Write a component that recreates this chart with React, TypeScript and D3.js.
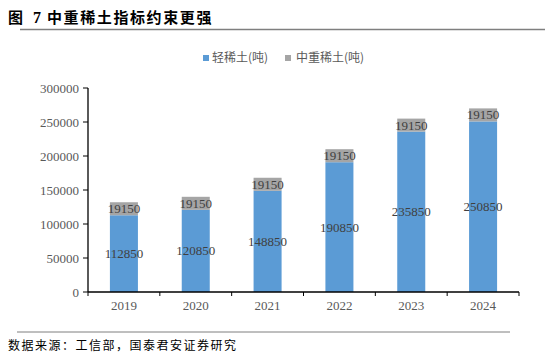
import React from "react";
import * as d3 from "d3";

const categories = ["2019", "2020", "2021", "2022", "2023", "2024"];
const lightREE = [112850, 120850, 148850, 190850, 235850, 250850];
const heavyREE = [19150, 19150, 19150, 19150, 19150, 19150];
const yTicks = [0, 50000, 100000, 150000, 200000, 250000, 300000];
const seriesNames = ["轻稀土(吨)", "中重稀土(吨)"];
const colors = ["#5B9BD5", "#A5A5A5"];

const serif = "'Liberation Serif', 'Times New Roman', serif";
const cjk = "'Noto Sans CJK SC', sans-serif";

export default function App() {
  const W = 560, H = 359;
  const left = 88, right = 519, top = 88, bottom = 292;
  const x = d3.scaleBand<string>().domain(categories).range([left, right]).paddingInner(0.61).paddingOuter(0.305);
  const y = d3.scaleLinear().domain([0, 300000]).range([bottom, top]);
  const bw = x.bandwidth();
  const stackData = categories.map((c, i) => ({ cat: c, light: lightREE[i], heavy: heavyREE[i] }));
  const series = d3.stack<any>().keys(["light", "heavy"])(stackData);
  const step = (right - left) / categories.length;

  return (
    <div style={{ position: "fixed", left: 0, top: 0 }}>
      <svg width={W} height={H} style={{ display: "block", background: "#fff" }}>
        <text x={8} y={23} fontFamily={cjk} fontWeight={700} fontSize={15} fill="#000">图</text>
        <text x={33} y={23} fontFamily={serif} fontWeight={700} fontSize={16} fill="#000">7</text>
        <text x={47} y={23} fontFamily={cjk} fontWeight={700} fontSize={15} letterSpacing={1.6} fill="#000">中重稀土指标约束更强</text>
        <line x1={20} x2={545} y1={29.5} y2={29.5} stroke="#7f7f7f" strokeWidth={1.5} />

        {/* legend */}
        <rect x={203} y={55} width={6} height={6} fill={colors[0]} />
        <text x={212} y={62} fontFamily={cjk} fontSize={12} fill="#595959">{seriesNames[0]}</text>
        <rect x={285} y={55} width={6} height={6} fill={colors[1]} />
        <text x={296} y={62} fontFamily={cjk} fontSize={12} fill="#595959">{seriesNames[1]}</text>

        {/* bars */}
        {series.map((s, si) =>
          s.map((d, i) => (
            <rect key={`${si}-${i}`} x={x(categories[i])!} y={y(d[1])} width={bw} height={y(d[0]) - y(d[1])} fill={colors[si]} />
          ))
        )}
        {/* labels */}
        {series.map((s, si) =>
          s.map((d, i) => (
            <text key={`l${si}-${i}`} x={x(categories[i])! + bw / 2} y={(y(d[0]) + y(d[1])) / 2 + 4.5} textAnchor="middle" fontFamily={serif} fontSize={13} fill="#404040">
              {si === 0 ? lightREE[i] : heavyREE[i]}
            </text>
          ))
        )}

        {/* y axis */}
        <line x1={left} x2={left} y1={top} y2={bottom} stroke="#000" strokeWidth={1.3} />
        {yTicks.map((t) => (
          <g key={t}>
            <line x1={left - 5} x2={left} y1={y(t)} y2={y(t)} stroke="#000" strokeWidth={1} />
            <text x={79} y={y(t) + 4.5} textAnchor="end" fontFamily={serif} fontSize={13} fill="#595959">{t}</text>
          </g>
        ))}
        {/* x axis */}
        <line x1={left} x2={right} y1={bottom} y2={bottom} stroke="#000" strokeWidth={1.3} />
        {d3.range(categories.length + 1).map((k) => (
          <line key={k} x1={left + k * step} x2={left + k * step} y1={bottom} y2={bottom + 4} stroke="#000" strokeWidth={1} />
        ))}
        {categories.map((c) => (
          <text key={c} x={x(c)! + bw / 2} y={310} textAnchor="middle" fontFamily={serif} fontSize={13} fill="#595959">{c}</text>
        ))}

        {/* footer */}
        <line x1={17} x2={510} y1={332} y2={332} stroke="#7f7f7f" strokeWidth={1} />
        <text x={8} y={350} fontFamily={cjk} fontSize={12} letterSpacing={1.5} fill="#000">数据来源：工信部，国泰君安证券研究</text>
      </svg>
    </div>
  );
}
